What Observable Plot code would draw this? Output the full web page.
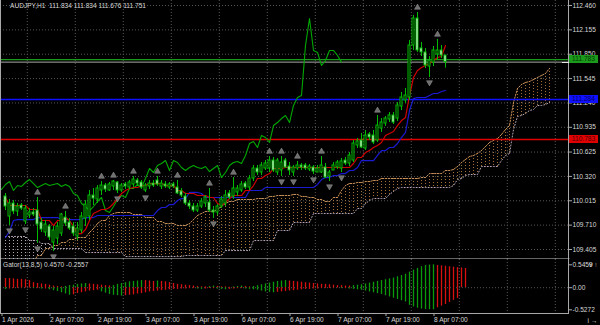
<!DOCTYPE html>
<html><head><meta charset="utf-8">
<script src="https://cdn.jsdelivr.net/npm/d3@7"></script>
<script src="https://cdn.jsdelivr.net/npm/@observablehq/plot@0.6"></script>
<style>
html,body{margin:0;padding:0;background:#000;}
#wrap{position:relative;width:600px;height:325px;overflow:hidden;background:#000;font-family:"Liberation Sans",Arial,sans-serif;}
#wrap svg{position:absolute;left:0;}
.txt{position:absolute;color:#d8d8d8;font-size:6.6px;white-space:pre;line-height:8px;}
.box{position:absolute;left:569px;width:29px;height:8px;font-size:6.6px;line-height:8px;text-align:center;}
</style></head><body><div id="wrap"></div><script>
// ---------- data ----------
const open = [110.069,109.818,109.981,109.881,109.956,109.755,109.831,109.868,109.893,109.743,
109.618,109.693,109.492,109.542,109.605,109.805,109.743,109.693,109.568,109.643,
109.793,109.818,110.081,110.031,110.144,110.206,110.144,110.194,110.244,110.144,
110.219,110.181,110.219,110.269,110.244,110.144,110.194,110.231,110.269,110.194,
110.219,110.181,110.219,110.181,110.131,110.069,109.981,109.943,109.893,109.943,
109.981,109.993,109.893,109.868,109.943,109.981,110.106,110.069,110.119,110.144,
110.231,110.181,110.294,110.419,110.369,110.419,110.419,110.519,110.369,110.394,
110.519,110.444,110.369,110.419,110.457,110.457,110.407,110.432,110.369,110.369,
110.432,110.319,110.394,110.432,110.419,110.519,110.482,110.519,110.707,110.770,
110.669,110.845,110.832,110.770,110.920,110.982,111.033,111.083,111.045,111.195,
111.271,111.308,111.959,112.297,111.922,111.872,111.696,111.746,111.847,111.897,
111.834];
const high = [110.106,110.031,110.018,109.981,109.981,109.956,109.918,109.918,110.056,109.793,
109.768,109.718,109.693,109.743,109.856,109.881,109.793,109.743,109.743,109.868,
110.018,110.144,110.169,110.206,110.256,110.231,110.244,110.269,110.256,110.231,
110.244,110.269,110.319,110.294,110.269,110.231,110.269,110.269,110.319,110.269,
110.256,110.244,110.244,110.269,110.169,110.106,110.018,109.981,109.981,110.043,
110.081,110.169,109.943,109.968,110.069,110.144,110.144,110.306,110.206,110.256,
110.256,110.331,110.457,110.457,110.494,110.519,110.569,110.557,110.544,110.569,
110.544,110.494,110.457,110.507,110.482,110.482,110.469,110.457,110.457,110.569,
110.482,110.394,110.494,110.519,110.544,110.557,110.619,110.770,110.795,110.857,
110.895,110.870,110.895,111.083,111.045,111.070,111.120,111.120,111.245,111.371,
111.421,112.022,112.335,112.372,111.997,111.922,111.821,111.947,112.034,111.959,
111.834];
const low = [109.893,109.705,109.843,109.818,109.893,109.718,109.793,109.818,109.480,109.618,
109.568,109.517,109.380,109.467,109.568,109.693,109.643,109.568,109.517,109.605,
109.693,109.768,109.956,109.981,110.081,110.119,110.131,110.144,110.106,110.119,
110.156,110.156,110.181,110.194,110.156,110.119,110.156,110.181,110.194,110.156,
110.169,110.156,110.169,110.094,110.056,109.956,109.906,109.868,109.868,109.918,
109.931,109.868,109.793,109.831,109.918,109.943,110.031,110.031,110.069,110.119,
110.156,110.144,110.256,110.331,110.331,110.394,110.369,110.369,110.331,110.319,
110.419,110.331,110.319,110.394,110.394,110.394,110.381,110.344,110.369,110.356,
110.294,110.256,110.394,110.407,110.369,110.457,110.444,110.494,110.669,110.669,
110.644,110.770,110.719,110.745,110.870,110.945,110.995,110.970,111.008,111.145,
111.233,111.271,111.897,111.872,111.821,111.671,111.559,111.696,111.771,111.796,
111.676];
const close = [109.943,109.981,109.881,109.943,109.918,109.918,109.868,109.843,109.718,109.655,
109.718,109.555,109.643,109.693,109.843,109.730,109.668,109.605,109.668,109.818,
109.968,110.081,110.043,110.169,110.206,110.156,110.219,110.256,110.144,110.206,
110.194,110.244,110.281,110.231,110.181,110.206,110.231,110.206,110.219,110.231,
110.194,110.219,110.194,110.106,110.081,109.981,109.943,109.893,109.943,110.006,
110.056,109.893,109.868,109.943,110.031,110.081,110.056,110.169,110.169,110.219,
110.181,110.294,110.419,110.369,110.457,110.482,110.519,110.394,110.519,110.494,
110.432,110.394,110.432,110.457,110.432,110.419,110.444,110.381,110.419,110.457,
110.306,110.369,110.457,110.494,110.507,110.482,110.582,110.732,110.757,110.682,
110.832,110.807,110.745,110.957,110.995,111.045,111.083,110.995,111.208,111.308,
111.333,111.959,112.297,111.897,111.872,111.709,111.771,111.897,111.897,111.834,
111.751];

// Ichimoku lines, as [bar index, value] runs (value holds until the next run)
const tenkanRuns = [[0,110.056],[1,109.956],[6,109.906],[9,109.768],[12,109.705],[13,109.768],[15,109.805],[16,109.768],[17,109.693],[18,109.605],[20,109.655],[21,109.768],[22,109.856],[23,109.881],[24,109.906],[26,109.931],[27,109.981],[28,110.043],[29,110.106],[30,110.144],[31,110.169],[32,110.181],[34,110.206],[36,110.231],[40,110.206],[43,110.144],[45,110.106],[48,110.081],[51,110.056],[53,109.981],[54,109.956],[55,109.993],[56,110.043],[57,110.081],[60,110.144],[62,110.206],[63,110.294],[65,110.331],[66,110.356],[67,110.419],[70,110.432],[87,110.482],[88,110.557],[90,110.619],[91,110.644],[92,110.682],[93,110.707],[94,110.745],[95,110.832],[96,110.857],[97,110.882],[98,110.957],[99,111.020],[100,111.058],[101,111.333],[102,111.559],[103,111.646],[104,111.684],[105,111.709],[106,111.734],[107,111.771],[108,111.809],[109,111.821],[110,111.959]];
const kijunRuns = [[0,109.555],[1,109.630],[2,109.768],[3,109.780],[8,109.805],[14,109.780],[20,109.805],[23,109.831],[38,109.893],[39,109.931],[41,109.968],[43,110.018],[44,110.043],[46,110.119],[49,110.106],[50,110.056],[61,110.144],[65,110.181],[78,110.219],[79,110.281],[80,110.306],[82,110.331],[84,110.356],[86,110.394],[88,110.432],[89,110.519],[93,110.582],[94,110.644],[96,110.682],[98,110.732],[99,110.807],[100,110.870],[101,111.145],[102,111.295],[103,111.308],[106,111.333],[107,111.358],[109,111.383],[110,111.396]];
const spanARuns = [[0,109.242],[8,109.330],[10,109.417],[12,109.455],[14,109.492],[16,109.530],[18,109.555],[21,109.618],[22,109.668],[23,109.730],[24,109.768],[26,109.831],[27,109.856],[28,109.868],[32,109.843],[35,109.805],[38,109.755],[40,109.730],[43,109.705],[46,109.730],[47,109.780],[48,109.831],[49,109.856],[50,109.881],[53,109.906],[54,109.943],[55,109.981],[56,110.006],[58,110.031],[63,110.043],[66,110.069],[68,110.081],[72,110.094],[74,110.069],[76,110.056],[78,110.031],[80,110.006],[82,110.056],[84,110.144],[85,110.206],[86,110.231],[88,110.244],[90,110.256],[92,110.269],[94,110.294],[104,110.306],[106,110.356],[110,110.394],[112,110.407],[113,110.444],[114,110.494],[115,110.532],[116,110.569],[117,110.582],[118,110.607],[119,110.644],[120,110.694],[121,110.745],[122,110.770],[123,110.795],[124,110.845],[125,110.907],[126,110.957],[127,111.245],[128,111.421],[129,111.471],[130,111.496],[131,111.508],[132,111.533],[133,111.559],[134,111.584],[135,111.609],[136,111.671]];
const spanBRuns = [[0,109.568],[6,109.517],[9,109.480],[12,109.417],[20,109.367],[30,109.317],[45,109.330],[55,109.392],[62,109.517],[68,109.643],[72,109.743],[77,109.856],[88,109.918],[90,109.981],[91,110.018],[92,110.043],[96,110.094],[97,110.131],[98,110.169],[99,110.181],[112,110.206],[113,110.281],[114,110.294],[115,110.331],[116,110.344],[119,110.444],[124,110.519],[125,110.582],[126,110.607],[127,110.907],[128,111.070],[129,111.083],[130,111.108],[131,111.145],[132,111.158],[133,111.208],[135,111.220],[136,111.245]];

const fractalUp = [8,15,24,27,32,38,43,51,57,66,69,73,79,93,103,108];
const fractalDown = [1,5,8,12,28,35,52,69,72,77,81,84,106];

const gatorUpper = [0.22,0.22,0.21,0.20,0.20,0.19,0.17,0.12,0.10,0.09,0.08,
0.06,0.04,0.03,0.02,0.03,0.05,0.06,0.08,0.09,0.10,0.09,0.08,0.07,
0.06,0.05,0.04,0.05,0.08,
0.10,0.12,0.14,0.15,0.16,0.17,0.17,0.16,0.15,0.16,
0.15,0.14,0.12,0.10,0.08,0.07,0.06,0.05,
0.04,0.03,0.02,0.02,0.03,0.04,0.03,0.02,0.02,0.01,0.02,0.03,0.04,0.03,0.02,0.03,
0.05,0.07,0.09,0.11,0.13,0.15,0.16,0.17,0.16,0.15,0.14,0.13,
0.12,0.11,0.10,0.09,0.08,0.08,0.07,0.06,0.05,0.05,0.04,0.04,0.05,0.06,0.07,0.09,
0.11,0.13,0.15,0.17,0.19,0.21,0.23,0.26,0.29,0.32,0.37,0.42,0.46,0.50,0.53,0.54,
0.5459,0.53,0.52,0.51,0.50,0.49,0.48,0.47,0.457];
const gatorLower = [-0.04,-0.03,-0.02,-0.02,-0.01,-0.01,-0.01,-0.02,-0.02,-0.03,-0.03,
-0.05,-0.07,-0.09,-0.12,-0.15,-0.18,-0.17,-0.14,-0.12,-0.10,-0.08,-0.07,-0.06,
-0.10,-0.13,-0.16,-0.18,-0.19,-0.20,
-0.19,-0.18,-0.17,-0.15,-0.14,-0.12,-0.10,-0.09,-0.08,
-0.07,-0.06,-0.05,-0.04,-0.04,-0.03,-0.03,-0.02,
-0.02,-0.03,-0.04,-0.03,-0.02,-0.02,-0.03,-0.04,-0.05,-0.04,-0.03,-0.02,-0.02,-0.03,-0.04,-0.05,
-0.06,-0.08,-0.10,-0.11,-0.12,-0.11,-0.10,-0.09,-0.08,-0.07,-0.06,-0.05,
-0.04,-0.04,-0.03,-0.03,-0.02,-0.02,-0.02,-0.01,-0.01,-0.02,-0.02,-0.03,-0.04,-0.05,-0.06,-0.08,
-0.10,-0.12,-0.14,-0.16,-0.19,-0.22,-0.25,-0.28,-0.31,-0.34,-0.42,-0.46,-0.49,-0.51,-0.52,-0.525,-0.5272,
-0.48,-0.44,-0.40,-0.35,-0.30,-0.2557];

const priceTicks = [112.460,112.155,111.850,111.545,111.240,110.935,110.625,110.320,110.015,109.710,109.405];
const timeTicks = [0,12,24,36,48,60,72,84,96,108];
const timeLabels = ["1 Apr 2026","2 Apr 07:00","2 Apr 19:00","3 Apr 07:00","3 Apr 19:00","6 Apr 07:00","6 Apr 19:00","7 Apr 07:00","7 Apr 19:00","8 Apr 07:00"];
const gatorTicks = [0.5459,0,-0.5272];
const hLines = [{v:111.783,c:"#1c9a1c",t:"#003a00",w:1.2},{v:111.284,c:"#1010ff",t:"#00006a",w:1.6},{v:110.783,c:"#e00000",t:"#500000",w:1.6}];
const bid = 111.751;
const title = "AUDJPY,H1  111.834 111.834 111.676 111.751";
const gatorTitle = "Gator(13,8,5) 0.4570 -0.2557";

// ---------- build ----------
const expand = (runs, n) => { const out = []; let k = 0; for (let i = 0; i < n; i++) { while (k + 1 < runs.length && runs[k + 1][0] <= i) k++; out.push({i, v: runs[k][1]}); } return out; };
const candles = open.map((o, i) => ({i, o, h: high[i], l: low[i], c: close[i]}));
const bulls = candles.filter(d => d.c >= d.o), bears = candles.filter(d => d.c < d.o);
const tenkan = expand(tenkanRuns, 111), kijun = expand(kijunRuns, 111);
const sa = expand(spanARuns, 137), sb = expand(spanBRuns, 137);
const cloud = sa.map((d, i) => ({i, a: d.v, b: sb[i].v}));
const cloudUp = cloud.filter(d => d.a >= d.b), cloudDn = cloud.filter(d => d.a < d.b);
const chikou = close.map((c, i) => ({i: i - 26, c}));
const gridX = timeTicks.concat([120, 132]).map(t => t + 5.45);
const GREEN = "#00bb00", TAN = "#a87238", TANL = "#c8915a", THISTLE = "#b8a8b8", GRID = "#555555", AX = "#a8a8a8";
const XD = [-1.25, 140.75];
const font = {background: "transparent", color: "#d8d8d8", fontFamily: "Liberation Sans, Arial, sans-serif", fontSize: "6.6px"};

const main = Plot.plot({
  width: 600, height: 259, marginLeft: 0, marginRight: 32, marginTop: 0, marginBottom: 0,
  x: {domain: XD, axis: null}, y: {domain: [109.2798, 112.5226], axis: null},
  style: font,
  marks: [
    Plot.ruleY(priceTicks, {stroke: GRID, strokeDasharray: "1,2"}),
    Plot.ruleX(gridX, {stroke: GRID, strokeDasharray: "1,2"}),
    Plot.ruleX(cloudUp, {x: "i", y1: "a", y2: "b", stroke: TAN, strokeDasharray: "1,2", clip: true}),
    Plot.ruleX(cloudDn, {x: "i", y1: "a", y2: "b", stroke: THISTLE, strokeDasharray: "1,2", clip: true}),
    Plot.line(cloud, {x: "i", y: "a", stroke: TANL, strokeWidth: 1, strokeDasharray: "1.5,1.5", clip: true}),
    Plot.line(cloud, {x: "i", y: "b", stroke: THISTLE, strokeWidth: 1, strokeDasharray: "1,2", clip: true}),
    Plot.ruleY([hLines[0].v], {stroke: hLines[0].c, strokeWidth: hLines[0].w}),
    Plot.ruleY([hLines[1].v], {stroke: hLines[1].c, strokeWidth: hLines[1].w}),
    Plot.ruleY([hLines[2].v], {stroke: hLines[2].c, strokeWidth: hLines[2].w}),
    Plot.ruleY([bid], {stroke: "#a8a8a8"}),
    Plot.line(chikou, {x: "i", y: "c", stroke: "#00a800", strokeWidth: 1.1, clip: true}),
    Plot.line(kijun, {x: "i", y: "v", stroke: "#1a1ad0", strokeWidth: 1.2}),
    Plot.line(tenkan, {x: "i", y: "v", stroke: "#d00000", strokeWidth: 1.2}),
    Plot.ruleX(candles, {x: "i", y1: "l", y2: "h", stroke: GREEN}),
    Plot.rect(bulls, {x1: d => d.i - 0.25, x2: d => d.i + 0.25, y1: "o", y2: "c", fill: "#000000", stroke: GREEN}),
    Plot.rect(bears, {x1: d => d.i - 0.25, x2: d => d.i + 0.25, y1: "o", y2: "c", fill: "#ffffff", stroke: GREEN}),
    Plot.dot(fractalUp.map(i => ({i, p: high[i]})), {x: "i", y: "p", symbol: "triangle", r: 2.2, fill: "#6e6e6e", stroke: "#9a9a9a", strokeWidth: 0.5, dy: -5}),
    Plot.dot(fractalDown.map(i => ({i, p: low[i]})), {x: "i", y: "p", symbol: "triangle", rotate: 180, r: 2.2, fill: "#6e6e6e", stroke: "#9a9a9a", strokeWidth: 0.5, dy: 5}),
    Plot.axisY(priceTicks, {anchor: "right", tickFormat: d => d.toFixed(3), tickSize: 3, tickPadding: 1, stroke: AX, fill: "#d8d8d8"}),
    Plot.frame({anchor: "left", stroke: AX}),
    Plot.frame({anchor: "right", stroke: AX}),
    Plot.frame({anchor: "bottom", stroke: "#c8c8c8", strokeWidth: 2})
  ]
});
main.style.top = "0px";

const gcol = (arr) => arr.map((v, i) => {
  const grow = i === 0 ? Math.abs(arr[0]) > Math.abs(arr[1]) : Math.abs(v) > Math.abs(arr[i - 1]);
  return {i, v, grow};
});
const gatorBars = gcol(gatorUpper).concat(gcol(gatorLower));

const gator = Plot.plot({
  width: 600, height: 66, marginLeft: 0, marginRight: 32, marginTop: 0, marginBottom: 12,
  x: {domain: XD, axis: null}, y: {domain: [-0.6154, 0.6723], axis: null},
  style: font,
  marks: [
    Plot.ruleY([0], {stroke: GRID, strokeDasharray: "1,2"}),
    Plot.ruleX(gridX, {stroke: GRID, strokeDasharray: "1,2"}),
    Plot.ruleX(gatorBars.filter(d => d.grow), {x: "i", y1: 0, y2: "v", stroke: "#0a9a0a", strokeWidth: 1.3}),
    Plot.ruleX(gatorBars.filter(d => !d.grow), {x: "i", y1: 0, y2: "v", stroke: "#d81010", strokeWidth: 1.3}),
    Plot.axisY(gatorTicks, {anchor: "right", tickFormat: d => d === 0 ? "0.00" : d.toFixed(4), tickSize: 3, tickPadding: 1, stroke: AX, fill: "#d8d8d8"}),
    Plot.axisX(timeTicks, {anchor: "bottom", tickFormat: (d, k) => timeLabels[k], textAnchor: "start", dx: -3.5, tickSize: 3, tickPadding: 1, stroke: AX, fill: "#d8d8d8"}),
    Plot.frame({anchor: "left", stroke: AX}),
    Plot.frame({anchor: "right", stroke: AX}),
    Plot.frame({anchor: "bottom", stroke: AX})
  ]
});
gator.style.top = "259px";

const wrap = document.getElementById("wrap");
wrap.appendChild(main);
wrap.appendChild(gator);

const ys = main.scale("y");
const t1 = document.createElement("div"); t1.className = "txt"; t1.style.left = "10px"; t1.style.top = "2px"; t1.textContent = title; wrap.appendChild(t1);
const t2 = document.createElement("div"); t2.className = "txt"; t2.style.left = "3px"; t2.style.top = "261px"; t2.textContent = gatorTitle; wrap.appendChild(t2);
const bidLine = document.createElement("div");
bidLine.style.cssText = `position:absolute;left:562px;width:36px;height:1px;background:#e8e8e8;top:${Math.round(ys.apply(bid))}px`;
wrap.appendChild(bidLine);
for (const h of hLines) {
  const b = document.createElement("div");
  b.className = "box";
  b.style.top = (ys.apply(h.v) - 4) + "px";
  b.style.background = h.c;
  b.style.color = h.t;
  b.textContent = h.v.toFixed(3);
  wrap.appendChild(b);
}
</script></body></html>
